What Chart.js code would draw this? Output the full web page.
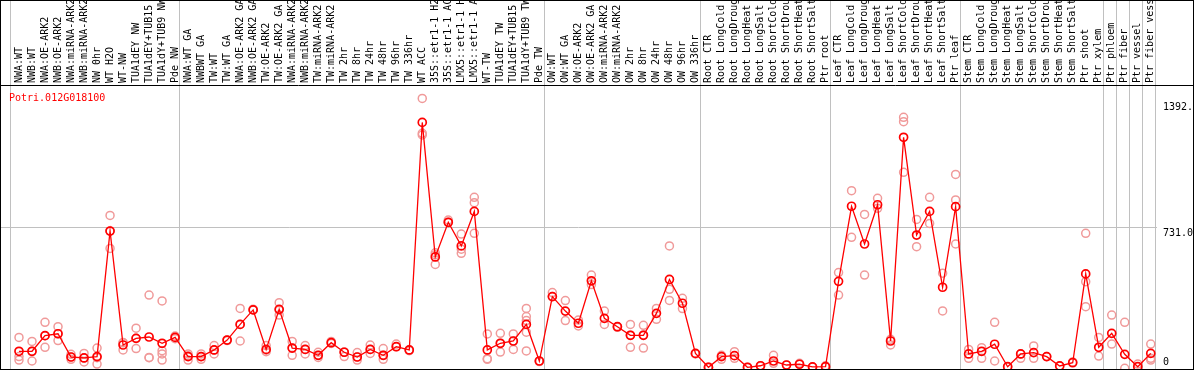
<!DOCTYPE html>
<html>
<head>
<meta charset="utf-8">
<script src="https://cdn.jsdelivr.net/npm/chart.js@4.4.1/dist/chart.umd.min.js"></script>
<style>
  html, body { margin: 0; padding: 0; background: #fff; }
  #wrap { width: 1194px; height: 370px; position: relative; }
</style>
</head>
<body>
<div id="wrap"><canvas id="exprChart"></canvas></div>
<script>
const geneId = "Potri.012G018100";

const categories = [
  "NWA:WT", "NWB:WT", "NWA:OE-ARK2", "NWB:OE-ARK2", "NWA:miRNA-ARK2", "NWB:miRNA-ARK2",
  "NW 0hr", "WT H2O", "WT-NW", "TUA1dEY NW", "TUA1dEY+TUB15 NW", "TUA1dY+TUB9 NW", "Pde NW",
  "NWA:WT GA", "NWBWT GA", "TW:WT", "TW:WT GA", "NWA:OE-ARK2 GA", "NWB:OE-ARK2 GA",
  "TW:OE-ARK2", "TW:OE-ARK2 GA", "NWA:miRNA-ARK2", "NWB:miRNA-ARK2", "TW:miRNA-ARK2",
  "TW:miRNA-ARK2", "TW 2hr", "TW 8hr", "TW 24hr", "TW 48hr", "TW 96hr", "TW 336hr",
  "WT ACC", "35S::etr1-1 H2O", "35S::etr1-1 ACC", "LMX5::etr1-1 H2O", "LMX5::etr1-1 ACC",
  "WT-TW", "TUA1dEY TW", "TUA1dEY+TUB15 TW", "TUA1dY+TUB9 TW", "Pde TW",
  "OW:WT", "OW:WT GA", "OW:OE-ARK2", "OW:OE-ARK2 GA", "OW:miRNA-ARK2", "OW:miRNA-ARK2",
  "OW 2hr", "OW 8hr", "OW 24hr", "OW 48hr", "OW 96hr", "OW 336hr",
  "Root CTR", "Root LongCold", "Root LongDrought", "Root LongHeat", "Root LongSalt",
  "Root ShortCold", "Root ShortDrought", "Root ShortHeat", "Root ShortSalt", "Ptr root",
  "Leaf CTR", "Leaf LongCold", "Leaf LongDrought", "Leaf LongHeat", "Leaf LongSalt",
  "Leaf ShortCold", "Leaf ShortDrought", "Leaf ShortHeat", "Leaf ShortSalt", "Ptr leaf",
  "Stem CTR", "Stem LongCold", "Stem LongDrought", "Stem LongHeat", "Stem LongSalt",
  "Stem ShortCold", "Stem ShortDrought", "Stem ShortHeat", "Stem ShortSalt", "Ptr shoot",
  "Ptr xylem", "Ptr phloem", "Ptr fiber", "Ptr vessel", "Ptr fiber vessel"
];

// mean expression per sample
const means = [
  84, 84, 166, 176, 54, 49, 56, 715, 117, 152, 159, 126, 157,
  56, 56, 91, 143, 225, 301, 94, 304, 101,
  94, 63, 129, 79, 54, 94, 63, 108, 91,
  1285, 579, 761, 637, 818, 91, 126, 138, 225,
  33, 371, 295, 231, 454, 257, 213, 168, 168, 283, 461, 336,
  73, 0, 56, 61, 0, 8, 33, 12, 16, 2,
  3, 451, 845, 647, 853, 138, 1207, 694, 818, 420,
  843, 70, 84, 121, 3, 70, 77, 56, 7, 24,
  490, 105, 178, 68, 3, 73
];

// individual replicate values per sample
const replicates = [
  [157, 56, 38], [136, 33, 84], [236, 105, 166], [213, 140, 176], [68, 42, 54], [73, 28, 49],
  [101, 17, 50], [797, 624, 715], [129, 91, 130], [205, 98, 152], [379, 52, 50], [348, 87, 38, 70],
  [164, 150],
  [70, 38, 60], [70, 42, 56], [114, 70, 90], [143, 140], [309, 138, 225], [301, 305],
  [114, 82, 90], [339, 274, 300], [136, 63, 101],
  [114, 70, 94], [79, 52, 63], [136, 125], [79, 56, 80], [77, 38, 54], [117, 73, 94],
  [98, 42, 63], [122, 108], [87, 91],
  [1411, 1228, 1219], [601, 540, 590], [773, 761], [699, 598, 620], [892, 864, 703],
  [175, 45, 42], [178, 80, 126], [175, 94, 138], [309, 266, 245, 184, 86],
  [33, 30], [392, 371], [350, 245], [248, 217], [484, 434], [295, 225], [213, 210],
  [225, 105, 168], [220, 101, 170], [309, 252], [637, 409, 351], [362, 308],
  [73, 70], [0, 0], [42, 63], [82, 47], [0], [8, 5], [63, 21], [12], [21, 16], [2],
  [8, 3], [497, 379], [927, 682], [802, 484], [887, 834], [147, 117], [1312, 1289, 1023],
  [776, 633], [892, 755], [494, 296],
  [1012, 878, 647], [94, 47], [103, 47], [236, 33], [3], [70, 47], [112, 47], [56], [7], [28],
  [703, 449, 318], [157, 59], [274, 122], [236, -5], [17], [122, 47, 38]
];

// group separators sit just after the last sample of each group
const groupBreaks = [-0.65, 12.37, 40.37, 52.37, 62.37, 72.37, 83.37, 84.37, 85.37, 86.37, 87.37];

const yTicks = [0, 731, 1392];
const yTickLabels = ["0", "731.0", "1392."];

const X_MIN = -1.46;
const X_MAX = 87.48;
const Y_MIN = -14.2;
const Y_MAX = 1481.4;

const monoFont = "'DejaVu Sans Mono', 'Liberation Mono', monospace";
const gridGray = "#c0c0c0";

const repPoints = [];
replicates.forEach((vals, i) => {
  vals.forEach((v) => repPoints.push({ x: i, y: v }));
});

const framePlugin = {
  id: "frame",
  afterDraw(chart) {
    const { ctx, chartArea, width, height } = chart;
    ctx.save();
    ctx.strokeStyle = "#000";
    ctx.lineWidth = 1;
    ctx.beginPath();
    ctx.moveTo(0, Math.round(chartArea.top) + 0.5);
    ctx.lineTo(width, Math.round(chartArea.top) + 0.5);
    ctx.stroke();
    ctx.strokeRect(0.5, 0.5, width - 1, height - 1);
    ctx.fillStyle = "#ff0000";
    ctx.font = "10px " + monoFont;
    ctx.textBaseline = "alphabetic";
    ctx.fillText(geneId, chartArea.left + 9, chartArea.top + 16);
    ctx.restore();
  },
};

// keep the plot area at fixed edges, no extra room for overhanging labels
function noPadding(s) {
  s.paddingLeft = 0;
  s.paddingRight = 0;
  s.paddingTop = 0;
  s.paddingBottom = 0;
}

const config = {
  type: "line",
  data: {
    datasets: [
      {
        label: geneId,
        data: means.map((v, i) => ({ x: i, y: v })),
        borderColor: "#ff0000",
        borderWidth: 1.3,
        tension: 0,
        pointRadius: 4,
        pointBorderWidth: 1.7,
        pointBorderColor: "#ff0000",
        pointBackgroundColor: "rgba(0,0,0,0)",
        xAxisID: "x",
        yAxisID: "y",
      },
      {
        label: "replicates",
        data: repPoints,
        showLine: false,
        pointRadius: 4,
        pointBorderWidth: 1.5,
        pointBorderColor: "#f09a9a",
        pointBackgroundColor: "rgba(0,0,0,0)",
        xAxisID: "x",
        yAxisID: "y",
      },
    ],
  },
  options: {
    responsive: true,
    maintainAspectRatio: false,
    animation: false,
    layout: { padding: 0, autoPadding: false },
    plugins: {
      legend: { display: false },
      tooltip: { enabled: false },
    },
    scales: {
      x: {
        type: "linear",
        position: "top",
        weight: 10,
        min: X_MIN,
        max: X_MAX,
        afterBuildTicks: (s) => {
          s.ticks = categories.map((c, i) => ({ value: i }));
        },
        afterFit: (s) => {
          s.height = 85;
          noPadding(s);
        },
        grid: { display: false, drawTicks: false },
        border: { display: false },
        ticks: {
          autoSkip: false,
          minRotation: 90,
          maxRotation: 90,
          padding: 2,
          labelOffset: 12,
          color: "#000",
          font: { family: monoFont, size: 10 },
          callback: (v) => categories[v],
        },
      },
      sep: {
        type: "linear",
        position: "top",
        weight: 0,
        min: X_MIN,
        max: X_MAX,
        afterBuildTicks: (s) => {
          s.ticks = groupBreaks.map((v) => ({ value: v }));
        },
        afterFit: (s) => {
          s.height = 0;
          noPadding(s);
        },
        ticks: { display: false },
        grid: { color: gridGray, lineWidth: 1, drawTicks: true, tickLength: 85 },
        border: { display: false },
      },
      y: {
        type: "linear",
        position: "right",
        min: Y_MIN,
        max: Y_MAX,
        afterBuildTicks: (s) => {
          s.ticks = yTicks.map((v) => ({ value: v }));
        },
        afterFit: (s) => {
          s.width = 37;
          noPadding(s);
        },
        grid: {
          drawTicks: false,
          color: (c) => (c.tick && c.tick.value === 731 ? gridGray : "rgba(0,0,0,0)"),
        },
        border: { display: false },
        ticks: {
          padding: 6,
          color: "#000",
          font: { family: monoFont, size: 10, lineHeight: 1 },
          callback: (v, i) => (i === 0 ? [yTickLabels[i], ""] : ["", yTickLabels[i]]),
        },
      },
    },
  },
  plugins: [framePlugin],
};

new Chart(document.getElementById("exprChart"), config);
</script>
</body>
</html>
